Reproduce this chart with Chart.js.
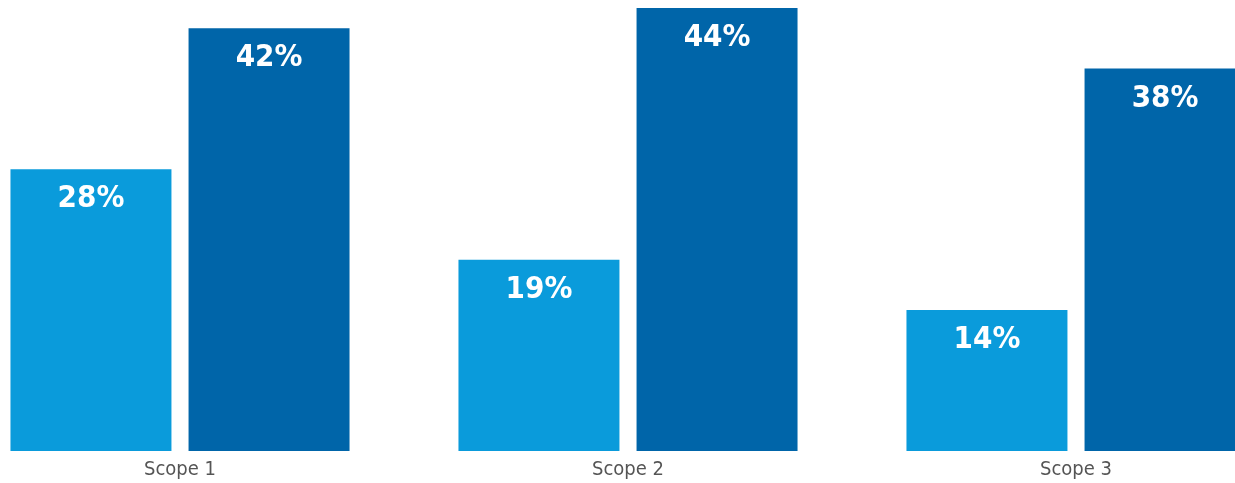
<!DOCTYPE html>
<html>
<head>
<meta charset="utf-8">
<script src="https://cdn.jsdelivr.net/npm/chart.js@4/dist/chart.umd.min.js"></script>
<style>
  html, body { margin: 0; padding: 0; background: #fff; overflow: hidden; }
  #wrap { position: absolute; left: -44px; top: 0; width: 1344px; height: 483px; }
</style>
</head>
<body>
<div id="wrap"><canvas id="scopeChart"></canvas></div>
<script>
// categories and values (percent)
const categories = ["Scope 1", "Scope 2", "Scope 3"];
const seriesLight = [28, 19, 14];
const seriesDark = [42, 44, 38];
const colorLight = "#0a9bdb";
const colorDark = "#0065a9";

// draws the white % label near the top of each bar
const barLabels = {
  id: "barLabels",
  afterDatasetsDraw(chart) {
    const ctx = chart.ctx;
    ctx.save();
    ctx.fillStyle = "#ffffff";
    ctx.font = "bold 31px 'DejaVu Sans Condensed', 'DejaVu Sans', sans-serif";
    ctx.textAlign = "center";
    ctx.textBaseline = "middle";
    chart.data.datasets.forEach((ds, i) => {
      chart.getDatasetMeta(i).data.forEach((bar, j) => {
        ctx.fillText(ds.data[j] + "%", bar.x, bar.y + 30);
      });
    });
    ctx.restore();
  }
};

const ctx = document.getElementById("scopeChart").getContext("2d");
new Chart(ctx, {
  type: "bar",
  data: {
    labels: categories,
    datasets: [
      { data: seriesLight, backgroundColor: colorLight },
      { data: seriesDark, backgroundColor: colorDark }
    ]
  },
  options: {
    responsive: true,
    maintainAspectRatio: false,
    animation: false,
    categoryPercentage: 0.795,
    barPercentage: 0.904,
    layout: { padding: 0 },
    plugins: { legend: { display: false }, tooltip: { enabled: false } },
    scales: {
      x: {
        grid: { display: false, drawTicks: false },
        border: { display: false },
        afterFit(scale) { scale.height = 32; },
        ticks: {
          color: "#555555",
          padding: 7,
          font: { family: "'DejaVu Sans Condensed', 'DejaVu Sans', sans-serif", size: 20 }
        }
      },
      y: {
        display: false,
        min: 0,
        max: 44.8
      }
    }
  },
  plugins: [barLabels]
});
</script>
</body>
</html>
